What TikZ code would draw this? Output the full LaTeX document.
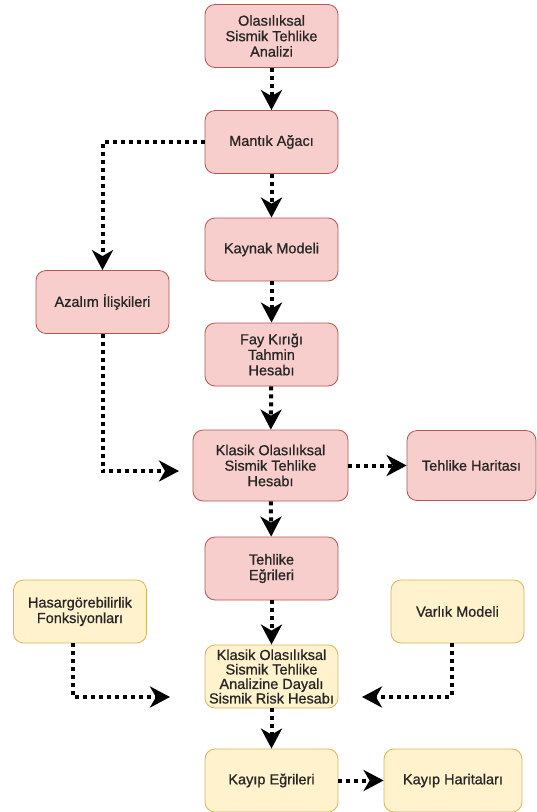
\documentclass[tikz,border=0pt]{standalone}
\usepackage{fontspec}
\setmainfont{Liberation Sans}
\newfontfamily\boxfont{Liberation Sans}[FakeBold=0.8]
\usetikzlibrary{arrows.meta}
\definecolor{pinkfill}{HTML}{F8CECC}
\definecolor{pinkline}{HTML}{B85450}
\definecolor{yelfill}{HTML}{FFF2CC}
\definecolor{yelline}{HTML}{D6B656}

\begin{document}
\begin{tikzpicture}
[
x=1pt,y=-1pt,
box/.style={draw,rounded corners=10pt,align=center,line width=0.8pt,text=black!85,
  font=\boxfont\fontsize{14.5}{15.5}\selectfont,minimum width=133pt,minimum height=63pt,inner sep=1pt},
pinkbox/.style={box,fill=pinkfill,draw=pinkline},
yellowbox/.style={box,fill=yelfill,draw=yelline},
flow/.style={draw,line width=4pt,dash pattern=on 4pt off 4pt,
  -{Stealth[length=20pt,width=21pt,inset=6pt]}}
]
\useasboundingbox (0,0) rectangle (537,812);

\node[pinkbox] (psha) at (271.5,36) {Olasılıksal\\Sismik Tehlike\\Analizi};
\node[pinkbox] (mantik) at (271.5,142) {Mantık Ağacı};
\node[pinkbox] (kaynak) at (271.5,249.5) {Kaynak Modeli};
\node[pinkbox] (azalim) at (102.5,302) {Azalım İlişkileri};
\node[pinkbox] (fay) at (271.5,354.5) {Fay Kırığı\\Tahmin\\Hesabı};
\node[pinkbox,minimum width=155pt,minimum height=71pt] (klasik) at (270.5,465.5)
  {Klasik Olasılıksal\\Sismik Tehlike\\Hesabı};
\node[pinkbox,minimum width=129pt,minimum height=70pt] (harita) at (471.5,465.5)
  {Tehlike Haritası};
\node[pinkbox] (egri) at (271.5,568.5) {Tehlike\\Eğrileri};
\node[yellowbox] (hasar) at (80,611.5) {Hasargörebilirlik\\Fonksiyonları};
\node[yellowbox] (varlik) at (457.5,611.5) {Varlık Modeli};
\node[yellowbox,font=\boxfont\fontsize{14.5}{14.5}\selectfont] (risk) at (271.5,676.5)
  {Klasik Olasılıksal\\Sismik Tehlike\\Analizine Dayalı\\Sismik Risk Hesabı};
\node[yellowbox] (kayipE) at (271.5,780.5) {Kayıp Eğrileri};
\node[yellowbox,minimum width=138pt] (kayipH) at (453,780.5) {Kayıp Haritaları};

\coordinate (azalimIn) at (179,471);
\coordinate (hasarIn) at (170,697);
\coordinate (varlikIn) at (362,697);

\draw[flow] (psha) -- (mantik);
\draw[flow] (mantik.west) -| (azalim.north);
\draw[flow] (mantik) -- (kaynak);
\draw[flow] (kaynak) -- (fay);
\draw[flow] (fay) -- (klasik);
\draw[flow] (azalim.south) |- (azalimIn);
\draw[flow] (klasik.east) -- (harita.west);
\draw[flow] (klasik) -- (egri);
\draw[flow] (egri) -- (risk);
\draw[flow] ([xshift=-7pt]hasar.south) |- (hasarIn);
\draw[flow] ([xshift=-6pt]varlik.south) |- (varlikIn);
\draw[flow] (risk) -- (kayipE);
\draw[flow] (kayipE) -- (kayipH);

\end{tikzpicture}
\end{document}
